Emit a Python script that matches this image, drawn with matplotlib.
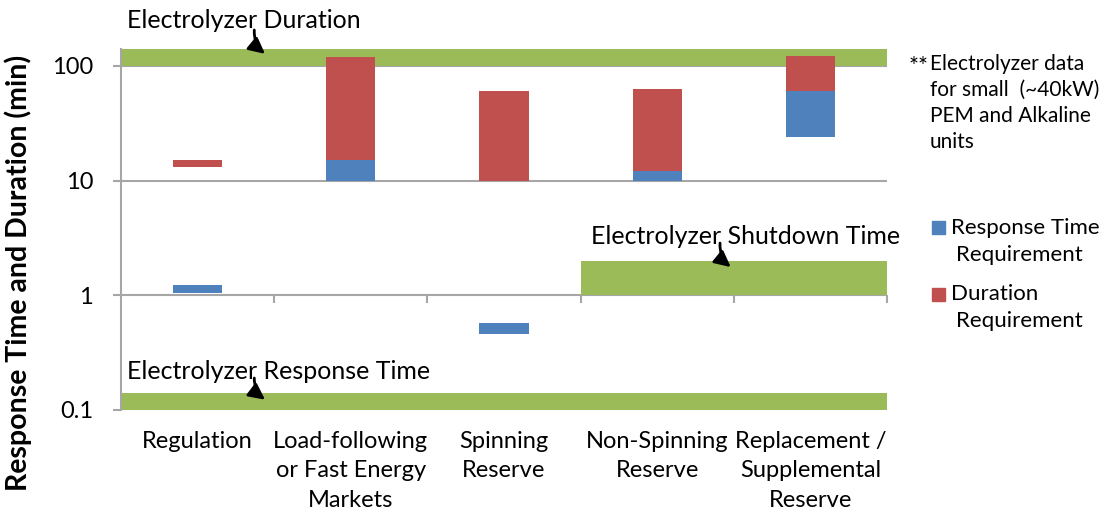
import matplotlib
matplotlib.use("Agg")
import matplotlib.pyplot as plt
from matplotlib.patches import Rectangle
import numpy as np

plt.rcParams['font.family'] = ['Lato', 'DejaVu Sans']

# categories and floating bar ranges (minutes)
categories = ["Regulation", "Load-following\nor Fast Energy\nMarkets", "Spinning\nReserve",
              "Non-Spinning\nReserve", "Replacement /\nSupplemental\nReserve"]
resp_low = [1.05, 10, 0.46, 10, 24]
resp_high = [1.22, 15, 0.57, 12, 60]
dur_low = [13, 15, 10, 12, 60]
dur_high = [15.2, 120, 60, 63, 121]

# electrolyzer capability bands
band_labels = ["Electrolyzer Duration", "Electrolyzer Shutdown Time", "Electrolyzer Response Time"]
band_low = [100, 1, 0.1]
band_high = [140, 2, 0.14]
band_start = [-0.5, 2.5, -0.5]
band_end = [4.5, 4.5, 4.5]

yticks = [0.1, 1, 10, 100]
yticklabels = ["0.1", "1", "10", "100"]

series_names = [("Response Time", "Requirement"), ("Duration", "Requirement")]

blue = "#4F81BD"
red = "#C0504D"
green = "#9BBB59"
grey = "#A6A6A6"

W, H = 1111, 516
fig = plt.figure(figsize=(W / 100, H / 100), dpi=100)
ax = fig.add_axes([121 / W, (H - 410) / H, (887 - 121) / W, (410 - 49) / H])
ax.set_yscale('log')
ax.set_xlim(-0.5, 4.5)
ax.set_ylim(0.1, 140)

x = np.arange(len(categories))

# gridlines
for v in yticks:
    ax.axhline(v, color=grey, lw=1.5, zorder=1)

# bands
for lo, hi, s, e in zip(band_low, band_high, band_start, band_end):
    ax.bar((s + e) / 2, hi - lo, width=e - s, bottom=lo, color=green, zorder=2)

ax.bar(x, np.array(resp_high) - np.array(resp_low), bottom=resp_low, width=0.32,
       color=blue, zorder=3)
ax.bar(x, np.array(dur_high) - np.array(dur_low), bottom=dur_low, width=0.32,
       color=red, zorder=3)

# annotations
ann_text_pos = [(-0.46, 250), (2.57, 3.26), (-0.46, 0.218)]
ann_tail = [(0.37, 205), (3.41, 2.85), (0.37, 0.19)]
ann_tip = [(0.44, 127), (3.48, 1.76), (0.44, 0.123)]
for lab, tp, tl, tip in zip(band_labels, ann_text_pos, ann_tail, ann_tip):
    ax.text(tp[0], tp[1], lab, fontsize=18, va='center', ha='left', zorder=5, clip_on=False)
    ax.annotate('', xy=tip, xytext=tl, annotation_clip=False, zorder=6,
                arrowprops=dict(arrowstyle='-|>', color='black', lw=2, mutation_scale=24,
                                connectionstyle='arc3,rad=0.25', shrinkA=0, shrinkB=0))

# axes styling
for sp in ['top', 'right', 'bottom']:
    ax.spines[sp].set_visible(False)
ax.spines['left'].set_color(grey)
ax.spines['left'].set_linewidth(1.5)
ax.set_yticks(yticks)
ax.set_yticklabels(yticklabels)
ax.yaxis.set_minor_locator(matplotlib.ticker.NullLocator())
ax.tick_params(axis='y', length=6, width=1.5, color=grey, labelsize=17, pad=14)

ax.set_xticks(x)
ax.set_xticklabels(categories, fontsize=17, linespacing=1.5, va='top')
ax.tick_params(axis='x', length=0, pad=15)

# category axis crossing at 1 with tick marks at boundaries
ylo, yhi = ax.get_ylim()
loc = (np.log10(1) - np.log10(ylo)) / (np.log10(yhi) - np.log10(ylo))
sec = ax.secondary_xaxis(loc)
sec.set_xticks(np.arange(0.5, 5, 1))
sec.set_xticklabels([])
sec.tick_params(length=6, width=1.5, color=grey, direction='out')
sec.spines['bottom'].set_visible(False)

fig.text(18 / W, 1 - 273 / H, "Response Time and Duration (min)", rotation=90,
         fontsize=20.5, fontweight='bold', ha='center', va='center')

fig.text(909 / W, 1 - 66 / H, "**", fontsize=17, va='center', ha='left')
fig.text(930 / W, 1 - 54 / H, "Electrolyzer data\nfor small  (~40kW)\nPEM and Alkaline\nunits",
         fontsize=15, va='top', ha='left', linespacing=1.38)

# legend drawn by hand so the marker sits on the first line
for (l1, l2), col, y0 in zip(series_names, [blue, red], [228, 294]):
    fig.patches.append(Rectangle((932 / W, 1 - (y0 + 6.5) / H), 13 / W, 13 / H,
                                 transform=fig.transFigure, color=col))
    fig.text(951 / W, 1 - y0 / H, l1, fontsize=16, va='center', ha='left')
    fig.text(956 / W, 1 - (y0 + 27) / H, l2, fontsize=16, va='center', ha='left')

fig.savefig("out.png", dpi=100)
